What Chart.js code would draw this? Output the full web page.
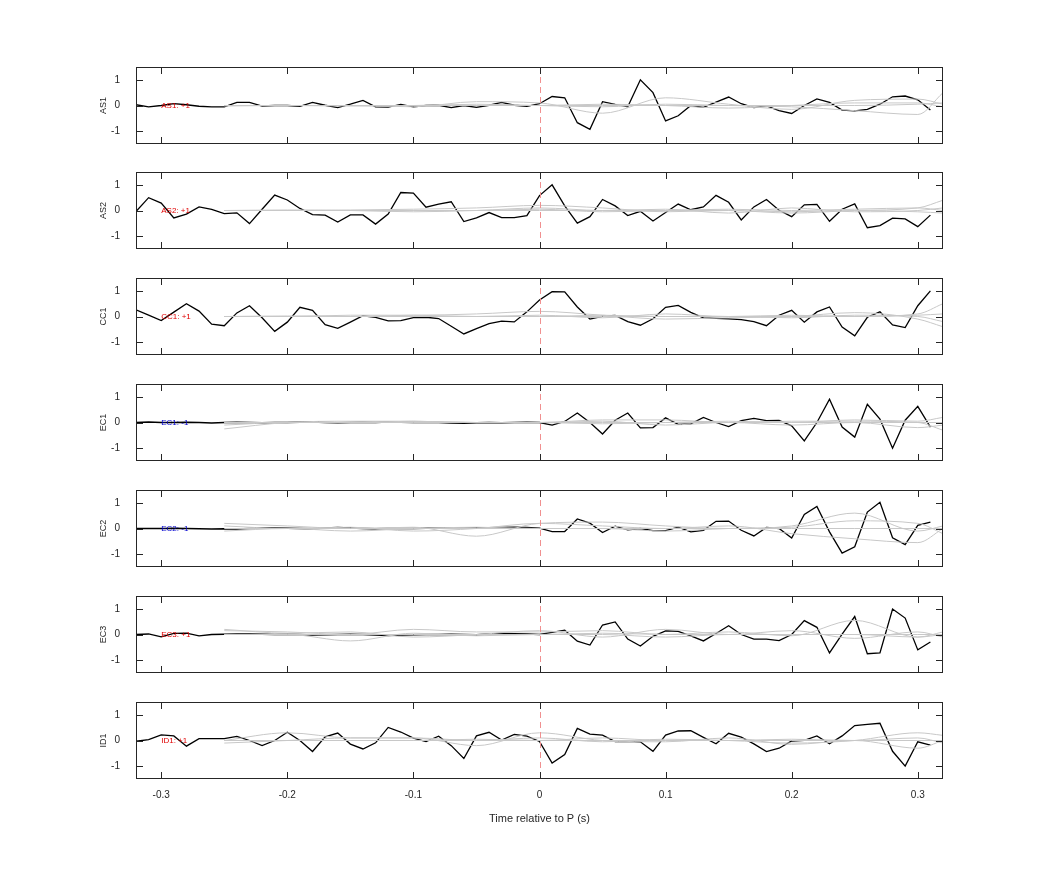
<!DOCTYPE html>
<html>
<head>
<meta charset="utf-8">
<script src="https://cdn.jsdelivr.net/npm/chart.js@4/dist/chart.umd.min.js"></script>
<style>
  body { margin: 0; background: #fff; }
  #wrap { position: relative; width: 1042px; height: 875px; }
  canvas { position: absolute; left: 0; }
</style>
</head>
<body>
<div id="wrap"></div>
<script>
// Time axis of the black traces (s)
const times = [-0.32,-0.31,-0.30,-0.29,-0.28,-0.27,-0.26,-0.25,-0.24,-0.23,-0.22,-0.21,-0.20,-0.19,-0.18,-0.17,
  -0.16,-0.15,-0.14,-0.13,-0.12,-0.11,-0.10,-0.09,-0.08,-0.07,-0.06,-0.05,-0.04,-0.03,-0.02,-0.01,
  0.00,0.01,0.02,0.03,0.04,0.05,0.06,0.07,0.08,0.09,0.10,0.11,0.12,0.13,0.14,0.15,
  0.16,0.17,0.18,0.19,0.20,0.21,0.22,0.23,0.24,0.25,0.26,0.27,0.28,0.29,0.30,0.31];
const grayTimes = [-0.25,-0.2,-0.15,-0.1,-0.05,0,0.05,0.1,0.15,0.2,0.25,0.3,0.32];
const xTicks = [-0.3,-0.2,-0.1,0,0.1,0.2,0.3];
const yTicks = [-1,0,1];

const stations = ['AS1','AS2','CC1','EC1','EC2','EC3','ID1'];
const polarity = ['AS1: +1','AS2: +1','CC1: +1','EC1: -1','EC2: -1','EC3: +1','ID1: +1'];
const polColor = ['#e00000','#e00000','#e00000','#0000d0','#0000d0','#e00000','#e00000'];

const as1 = [0.03,-0.05,0,0.07,0.03,-0.03,-0.05,-0.05,0.12,0.12,-0.02,0,0,-0.03,0.12,0.01,
  -0.08,0.05,0.2,-0.05,-0.06,0.04,-0.05,0,0.01,-0.08,0,-0.07,0.01,0.12,0.01,-0.03,
  0.07,0.35,0.3,-0.67,-0.93,0.15,0.04,-0.05,1.0,0.5,-0.6,-0.4,0,-0.07,0.13,0.33,
  0.07,-0.08,-0.02,-0.2,-0.31,0,0.26,0.12,-0.18,-0.21,-0.15,0.05,0.34,0.37,0.22,-0.18];
const as2 = [-0.04,0.5,0.29,-0.29,-0.14,0.14,0.04,-0.12,-0.09,-0.51,0.05,0.6,0.41,0.08,-0.16,-0.18,
  -0.45,-0.17,-0.17,-0.53,-0.14,0.7,0.68,0.13,0.25,0.34,-0.43,-0.29,-0.08,-0.28,-0.28,-0.2,
  0.58,1.0,0.18,-0.49,-0.24,0.43,0.18,-0.2,-0.03,-0.41,-0.08,0.25,0.03,0.14,0.59,0.32,
  -0.37,0.14,0.43,0.01,-0.24,0.22,0.24,-0.42,0.05,0.26,-0.67,-0.59,-0.3,-0.33,-0.63,-0.18];
const cc1 = [0.26,0.05,-0.16,0.17,0.5,0.21,-0.3,-0.36,0.14,0.42,-0.05,-0.58,-0.22,0.36,0.24,-0.32,
  -0.46,-0.22,0.03,-0.03,-0.17,-0.16,-0.04,-0.03,-0.08,-0.38,-0.68,-0.47,-0.28,-0.18,-0.21,0.18,
  0.64,0.97,0.96,0.37,-0.1,0.01,0.04,-0.2,-0.34,-0.09,0.36,0.43,0.16,-0.05,-0.07,-0.09,
  -0.12,-0.2,-0.36,0.05,0.24,-0.22,0.18,0.37,-0.41,-0.75,-0.03,0.18,-0.33,-0.43,0.42,1.0];
const ec1 = [0,0.02,0,0,0.01,0,-0.02,0,0.01,0,-0.01,0,0,0.01,0.02,0,
  -0.01,0,0.01,0,0.02,0.01,0,0.01,0,-0.02,-0.03,-0.01,0,-0.01,0,0.01,
  0,-0.1,0.04,0.37,0,-0.45,0.09,0.37,-0.21,-0.2,0.18,-0.07,-0.05,0.2,0,-0.16,
  0.07,0.16,0.07,0.08,-0.13,-0.72,0,0.91,-0.18,-0.57,0.71,0.13,-1.0,0.09,0.63,-0.18];
const ec2 = [0,0,0,0.01,0,-0.01,-0.02,-0.01,-0.02,0,0.02,0.02,0.01,0,-0.01,0.02,
  0.04,0.02,0,-0.01,0,0,0,0.01,0.01,0.02,0.01,0.02,0.03,0.04,0.05,0.04,
  0.01,-0.12,-0.12,0.37,0.21,-0.16,0.09,-0.05,0,-0.08,-0.08,0.05,-0.13,-0.07,0.28,0.29,
  -0.07,-0.29,0.04,0,-0.37,0.55,0.86,-0.13,-0.96,-0.71,0.64,1.02,-0.36,-0.63,0.12,0.25];
const ec3 = [0,0.02,-0.09,0.04,0.05,-0.05,0,0.01,0.02,0.02,0.01,0,0.01,0,-0.02,-0.01,
  0,0.01,0,-0.02,-0.04,-0.02,-0.01,0,0,0.01,0,-0.01,0.02,0.04,0.03,0.02,
  0,0.08,0.17,-0.26,-0.41,0.37,0.49,-0.18,-0.45,-0.07,0.14,0.12,-0.05,-0.25,0.04,0.34,
  0,-0.18,-0.18,-0.24,0,0.54,0.28,-0.72,0.01,0.7,-0.75,-0.72,0.99,0.64,-0.6,-0.29];
const id1 = [-0.03,0.03,0.22,0.18,-0.22,0.07,0.07,0.07,0.16,0,-0.2,0,0.32,0,-0.43,0.14,
  0.29,-0.14,-0.33,-0.09,0.51,0.33,0.09,-0.04,0.17,-0.2,-0.7,0.18,0.32,0.02,0.24,0.17,
  -0.04,-0.88,-0.55,0.47,0.25,0.21,-0.04,-0.03,-0.05,-0.42,0.21,0.37,0.38,0.12,-0.13,0.28,
  0.13,-0.13,-0.43,-0.3,-0.02,0.01,0.18,-0.13,0.18,0.58,0.63,0.67,-0.42,-1.0,-0.05,-0.18];
const blackSeries = [as1, as2, cc1, ec1, ec2, ec3, id1];

// Gray comparison traces, sampled every 0.05 s
const grayAS1 = [[-0.02,0,0,-0.05,0.15,0.1,-0.3,0.3,0.05,-0.15,0.2,0.25,0.05],
  [0,0,0,0,0.05,0,-0.05,0.05,0,-0.05,-0.2,-0.35,0.5],
  [0,0,-0.02,0,0,0,0.05,0,-0.1,0,0.1,0.1,-0.05],
  [0,0,0,0,0,0,0,0,0,0,0,0.05,0.1]];
const grayAS2 = [[0,0,0.02,0.05,0.1,0.2,0.1,-0.05,0,-0.1,0,0.1,0.4],
  [0,0.02,0,-0.05,0,0.1,0,0.05,-0.1,0.1,-0.05,0,0.1],
  [0,0,0,0,0,0.05,-0.05,0,0.05,0,0.05,0.1,0],
  [0,0,0,0,0,0,0,0,0,-0.05,0,-0.05,-0.1]];
const grayCC1 = [[0,0,0.05,0.05,0.1,0.2,0.05,-0.1,-0.05,0,0.15,-0.1,-0.4],
  [0,0.02,0,0.05,0,0.05,-0.05,0.1,0,0.05,0,0.1,0.5],
  [0,0,0,0,0,0,0.05,0,0,-0.05,0.05,0,-0.2],
  [0,0,0,0,0,0,0,0,0,0,0,0.05,0.1]];
const grayEC1 = [[-0.25,0,0.05,0.05,0,0,0.1,0.1,0,0.05,0.05,0,-0.3],
  [0,0,0,0.05,0,0,-0.05,0,0.05,0,0.1,0.05,0.2],
  [-0.1,0,0,0,0,0,0.05,-0.1,0,-0.1,0,-0.2,-0.1],
  [0,0,0,0,0,0,0,0,0,0,0,0,0]];
const grayEC2 = [[0.2,0.1,0,0.05,-0.3,0.2,0.25,0.1,0,0.1,0.6,-0.1,0.1],
  [0.1,0,0.05,-0.1,0,0.2,0.1,0,0.1,-0.2,-0.4,-0.55,0],
  [-0.1,0,-0.1,0,0.05,0,0,-0.1,0,0.05,0.3,0.2,-0.2],
  [0,0,0,0,0,0,0,0,0,0,0,0,0]];
const grayEC3 = [[0.15,0.1,0,0.2,0.1,0.1,0.15,0,0.1,-0.05,0.55,-0.1,0],
  [0.2,0.05,0.1,-0.1,0,0.15,-0.1,0.2,0,0.15,-0.15,0.1,-0.1],
  [0,0,-0.25,0.05,-0.05,0,0,-0.1,0,0,0,-0.1,0.1],
  [0,0,0,0,0,0,0.05,0,0,0,0,0,0]];
const grayID1 = [[0,0.3,0.1,0.1,0,0.1,-0.05,0.05,0,-0.1,0,0.3,0.2],
  [-0.1,0,0.1,0.1,-0.2,0.3,0,-0.05,0.1,-0.15,0,-0.3,0],
  [0,0,0,0,0.05,0,0.1,0,0,0.05,0,0.1,-0.1],
  [0,0,0,0,0,0,0,0,0,0,0,0,0]];
const graySeries = [grayAS1, grayAS2, grayCC1, grayEC1, grayEC2, grayEC3, grayID1];

const FONT = 'Liberation Sans, Arial, sans-serif';
const PLOT_LEFT = 136, PLOT_RIGHT = 943, PLOT_H = 76, YAXIS_W = 42;
const TOP_GAP = 14, BOTTOM_GAP = 15;
const panelTops = [67, 172, 278, 384, 490, 596, 702];

const frame = {
  id: 'frame',
  afterDraw(chart, args, opts) {
    const ctx = chart.ctx, a = chart.chartArea;
    const xs = chart.scales.x, ys = chart.scales.y;
    ctx.save();
    // dashed zero line
    const x0 = Math.round(xs.getPixelForValue(0)) + 0.5;
    ctx.strokeStyle = '#f09090';
    ctx.lineWidth = 1;
    ctx.setLineDash([6, 4]);
    ctx.beginPath(); ctx.moveTo(x0, a.top); ctx.lineTo(x0, a.bottom); ctx.stroke();
    ctx.setLineDash([]);
    // box
    ctx.strokeStyle = '#262626';
    ctx.strokeRect(a.left + 0.5, a.top + 0.5, a.right - a.left - 1, a.bottom - a.top - 1);
    // inward ticks
    ctx.beginPath();
    xTicks.forEach(v => {
      const px = Math.round(xs.getPixelForValue(v)) + 0.5;
      ctx.moveTo(px, a.top); ctx.lineTo(px, a.top + 7);
      ctx.moveTo(px, a.bottom); ctx.lineTo(px, a.bottom - 7);
    });
    yTicks.forEach(v => {
      const py = Math.round(ys.getPixelForValue(v)) + 0.5;
      ctx.moveTo(a.left, py); ctx.lineTo(a.left + 7, py);
      ctx.moveTo(a.right, py); ctx.lineTo(a.right - 7, py);
    });
    ctx.stroke();
    // polarity label
    ctx.fillStyle = opts.color;
    ctx.font = '8px ' + FONT;
    ctx.textBaseline = 'middle';
    ctx.fillText(opts.text, xs.getPixelForValue(-0.3), ys.getPixelForValue(0));
    ctx.restore();
  }
};

const wrap = document.getElementById('wrap');
stations.forEach((name, i) => {
  const last = i === stations.length - 1;
  const extra = last ? 37 : 0;
  const h = PLOT_H + TOP_GAP + BOTTOM_GAP + extra;
  const cv = document.createElement('canvas');
  cv.style.top = (panelTops[i] - TOP_GAP) + 'px';
  cv.style.width = '1042px';
  cv.style.height = h + 'px';
  cv.width = 1042; cv.height = h;
  wrap.appendChild(cv);

  const datasets = graySeries[i].map(g => ({
    data: grayTimes.map((t, k) => ({ x: t, y: g[k] })),
    borderColor: '#c8c8c8', borderWidth: 1, pointRadius: 0,
    cubicInterpolationMode: 'monotone'
  }));
  datasets.push({
    data: times.map((t, k) => ({ x: t, y: blackSeries[i][k] })),
    borderColor: '#000', borderWidth: 1.3, pointRadius: 0, tension: 0
  });

  new Chart(cv, {
    type: 'line',
    data: { datasets },
    plugins: [frame],
    options: {
      responsive: false, animation: false,
      layout: { autoPadding: false,
        padding: { top: 5, right: 1042 - PLOT_RIGHT, bottom: 0, left: PLOT_LEFT - YAXIS_W } },
      plugins: { legend: { display: false }, tooltip: { enabled: false },
        frame: { text: polarity[i], color: polColor[i] } },
      scales: {
        x: {
          type: 'linear', min: -0.32, max: 0.32,
          afterBuildTicks: s => { s.ticks = xTicks.map(v => ({ value: v })); },
          afterFit: s => { s.height = last ? 5 + 46 : 5; },
          grid: { display: false }, border: { display: false },
          ticks: { display: last, color: '#262626', font: { family: FONT, size: 10 }, padding: 2,
            maxRotation: 0, callback: v => String(v) },
          title: { display: last, text: 'Time relative to P (s)', color: '#262626',
            font: { family: FONT, size: 11 }, padding: { top: 10 } }
        },
        y: {
          min: -1.5, max: 1.5,
          afterBuildTicks: s => { s.ticks = yTicks.map(v => ({ value: v })); },
          afterFit: s => { s.width = YAXIS_W; },
          grid: { display: false }, border: { display: false },
          ticks: { color: '#262626', font: { family: FONT, size: 10 }, padding: 8 },
          title: { display: true, text: name, color: '#262626', font: { family: FONT, size: 9 }, padding: 4 }
        }
      }
    }
  });
});
</script>
</body>
</html>
